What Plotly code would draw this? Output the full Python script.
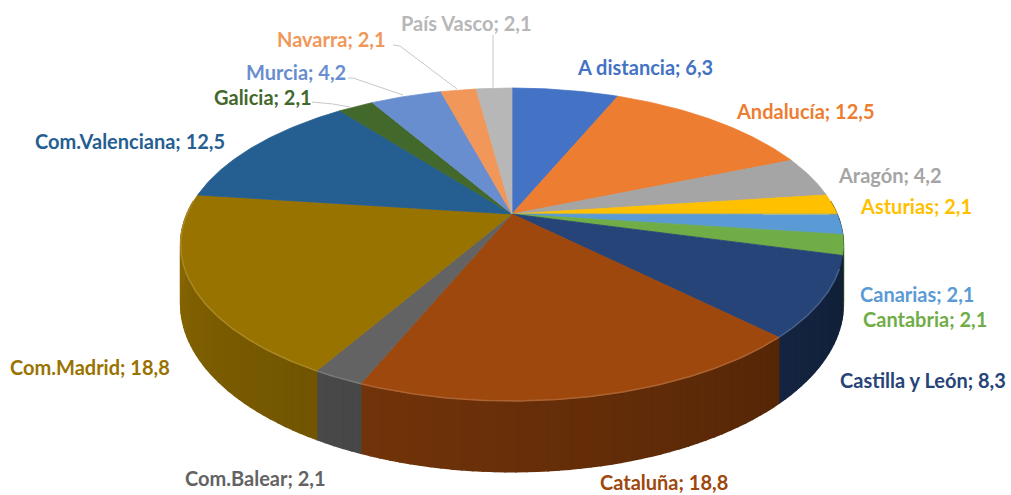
import math
import plotly.graph_objects as go

categories = ["A distancia", "Andalucía", "Aragón", "Asturias", "Canarias", "Cantabria",
              "Castilla y León", "Cataluña", "Com.Balear", "Com.Madrid", "Com.Valenciana",
              "Galicia", "Murcia", "Navarra", "País Vasco"]
values = [6.3, 12.5, 4.2, 2.1, 2.1, 2.1, 8.3, 18.8, 2.1, 18.8, 12.5, 2.1, 4.2, 2.1, 2.1]
colors = ["#4472C4", "#ED7D31", "#A5A5A5", "#FFC000", "#5B9BD5", "#70AD47", "#264478", "#9E480E",
          "#636363", "#997300", "#255E91", "#43682B", "#698ED0", "#F1975A", "#B7B7B7"]
label_x = [645, 805, 890, 916, 917, 925, 923, 664, 255, 90, 130, 263, 296, 331, 466]
label_y = [67, 111, 175, 206, 294, 319, 380, 482, 478, 367, 141, 97, 72, 39, 23]
leaders = [([312, 333, 350], [102, 104, 107]),
           ([348, 353, 403], [78, 78, 95]),
           ([393, 400, 457], [45, 46, 89]),
           ([493, 493], [35, 88])]

CX, CY, RX, RY, K, DEPTH = 512, 214, 325, 150.5, 0.195, 57


def project(theta, drop=0.0):
    u, v = math.sin(theta), math.cos(theta)
    s = 1 + K * v
    return CX + RX * u / s, CY - RY * v / s + DEPTH * drop / s


def shade(hex_colour, f):
    rgb = [int(hex_colour[i:i + 2], 16) for i in (1, 3, 5)]
    return "rgb(%d,%d,%d)" % tuple(min(255, c * f) for c in rgb)


def lighten(hex_colour, f):
    rgb = [int(hex_colour[i:i + 2], 16) for i in (1, 3, 5)]
    return "rgb(%d,%d,%d)" % tuple(c + (255 - c) * f for c in rgb)


def arc(a0, a1, step=0.5):
    n = max(2, int(abs(math.degrees(a1 - a0)) / step) + 1)
    return [a0 + (a1 - a0) * i / (n - 1) for i in range(n)]


fig = go.Figure()
total = sum(values)
spans, cum = [], 0.0
for val in values:
    spans.append((cum / total * 2 * math.pi, (cum + val) / total * 2 * math.pi))
    cum += val


def add_poly(xs, ys, fill, line=None, width=0.8):
    fig.add_trace(go.Scatter(x=xs, y=ys, mode="lines", fill="toself", fillcolor=fill,
                             line=dict(color=line or fill, width=width),
                             hoverinfo="skip", showlegend=False))


# Rim of the disc, in shaded strips
for (a0, a1), col in zip(spans, colors):
    lo, hi = max(a0, math.radians(85)), min(a1, math.radians(275))
    if lo >= hi:
        continue
    pts = arc(lo, hi, 1.5)
    for p, q in zip(pts[:-1], pts[1:]):
        deg = math.degrees((p + q) / 2)
        f = 0.45 + (deg - 100) / 170 * 0.45
        top = project(p), project(q)
        bot = project(q, 1.0), project(p, 1.0)
        poly = list(top) + list(bot) + [top[0]]
        add_poly([c[0] for c in poly], [c[1] for c in poly], shade(col, f), width=1.5)

# Top face
for (a0, a1), col in zip(spans, colors):
    pts = [(CX, CY)] + [project(t) for t in arc(a0, a1)] + [(CX, CY)]
    add_poly([c[0] for c in pts], [c[1] for c in pts], col)

# Highlight on the near edge
for (a0, a1), col in zip(spans, colors):
    lo, hi = max(a0, math.radians(110)), min(a1, math.radians(275))
    if lo >= hi:
        continue
    pts = [project(t) for t in arc(lo, hi)]
    fig.add_trace(go.Scatter(x=[c[0] for c in pts], y=[c[1] for c in pts], mode="lines",
                             line=dict(color=lighten(col, 0.15), width=1.5),
                             hoverinfo="skip", showlegend=False))

# Leader lines
for xs, ys in leaders:
    fig.add_trace(go.Scatter(x=xs, y=ys, mode="lines", line=dict(color="#C8C8C8", width=1),
                             hoverinfo="skip", showlegend=False))

# Labels
for name, val, col, lx, ly in zip(categories, values, colors, label_x, label_y):
    fig.add_annotation(x=lx, y=ly, xref="x", yref="y", showarrow=False,
                       text=f"<b>{name}; {str(val).replace('.', ',')}</b>",
                       font=dict(family="Lato", size=20, color=col))

fig.update_layout(
    width=1011, height=495, margin=dict(l=0, r=0, t=0, b=0),
    paper_bgcolor="white", plot_bgcolor="white", showlegend=False,
    xaxis=dict(range=[0, 1011], visible=False, fixedrange=True),
    yaxis=dict(range=[495, 0], visible=False, fixedrange=True),
)
fig.write_html("out.html", config={"displayModeBar": False},
               post_script="document.body.style.margin='0';document.body.style.overflow='hidden';")
